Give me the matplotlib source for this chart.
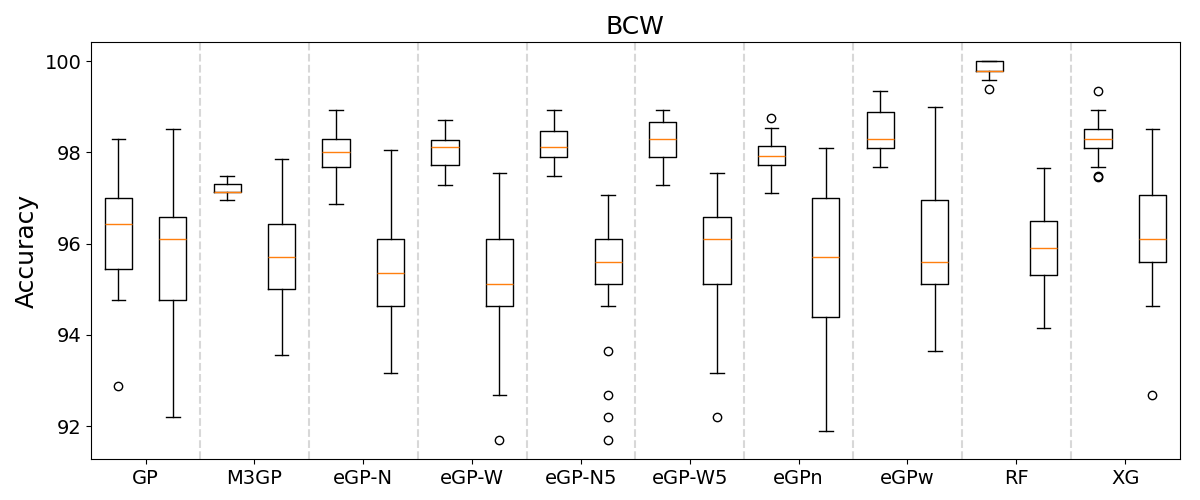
import matplotlib
matplotlib.use("Agg")
import matplotlib.pyplot as plt

methods = ["GP", "M3GP", "eGP-N", "eGP-W", "eGP-N5", "eGP-W5", "eGPn", "eGPw", "RF", "XG"]

# per box: train, test alternating for each method
whislo = [94.76, 92.20, 96.95, 93.57, 96.86, 93.17, 97.28, 92.69, 97.48, 94.64,
          97.28, 93.17, 97.12, 91.90, 97.69, 93.65, 99.59, 94.15, 97.69, 94.64]
q1     = [95.44, 94.76, 97.13, 95.01, 97.69, 94.64, 97.73, 94.64, 97.89, 95.11,
          97.89, 95.11, 97.73, 94.40, 98.10, 95.11, 99.79, 95.31, 98.10, 95.60]
med    = [96.43, 96.10, 97.13, 95.71, 98.00, 95.35, 98.11, 95.11, 98.11, 95.60,
          98.30, 96.10, 97.93, 95.71, 98.30, 95.60, 99.79, 95.90, 98.30, 96.10]
q3     = [97.01, 96.58, 97.30, 96.43, 98.30, 96.10, 98.27, 96.10, 98.48, 96.10,
          98.67, 96.58, 98.15, 97.01, 98.89, 96.95, 100.0, 96.49, 98.52, 97.06]
whishi = [98.30, 98.52, 97.48, 97.85, 98.94, 98.05, 98.72, 97.54, 98.94, 97.06,
          98.94, 97.54, 98.54, 98.09, 99.35, 99.00, 100.0, 97.65, 98.94, 98.52]
fliers = [[92.88], [], [], [], [], [], [], [91.70], [], [93.65, 92.69, 92.21, 91.70],
          [], [92.21], [98.76], [], [], [], [99.40], [], [99.35, 97.47, 97.49], [92.69]]

stats = []
for i in range(len(med)):
    stats.append(dict(med=med[i], q1=q1[i], q3=q3[i], whislo=whislo[i],
                      whishi=whishi[i], fliers=fliers[i]))

fig = plt.figure(figsize=(12, 5), dpi=100)
ax = fig.add_axes([0.076, 0.082, 0.907, 0.834])
positions = list(range(1, len(stats) + 1))
ax.bxp(stats, positions=positions, widths=0.5)

for k in range(1, len(methods)):
    ax.axvline(2 * k + 0.5, color="#d8d8d8", linestyle="--", linewidth=1.5, zorder=0)

ax.set_xticks([2 * k + 1.5 for k in range(len(methods))])
ax.set_xticklabels(methods, fontsize=14)
ax.tick_params(axis="y", labelsize=14)
ax.set_yticks([92, 94, 96, 98, 100])
ax.set_xlim(0.5, 20.5)
ax.set_ylim(91.28, 100.42)
ax.set_ylabel("Accuracy", fontsize=18)
ax.set_title("BCW", fontsize=18)

fig.savefig("out.png")
